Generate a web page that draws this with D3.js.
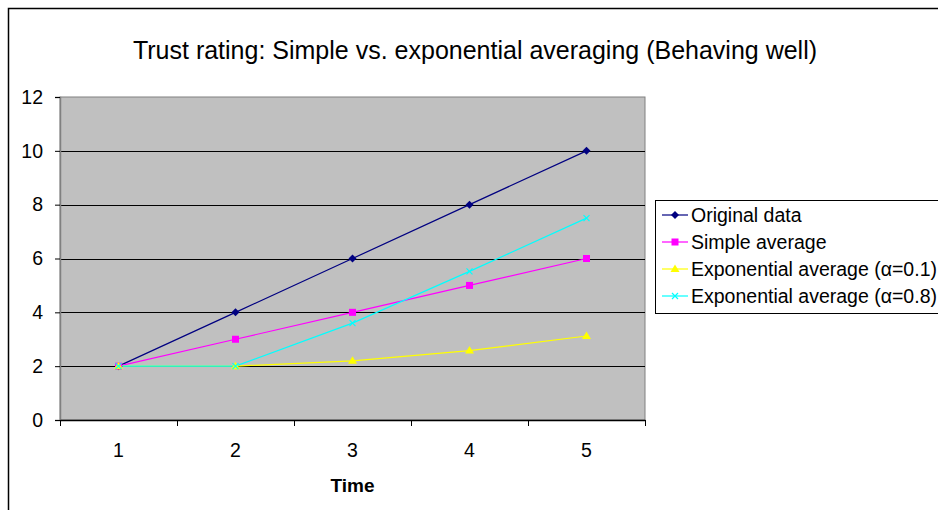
<!DOCTYPE html>
<html>
<head>
<meta charset="utf-8">
<script src="https://cdn.jsdelivr.net/npm/d3@7"></script>
<style>
  body { margin: 0; background: #fff; }
  svg { font-family: "Liberation Sans", Arial, sans-serif; }
</style>
</head>
<body>
<div id="chart"></div>
<script>
// data
var times = [1, 2, 3, 4, 5];
var original = [2, 4, 6, 8, 10];
var simpleAvg = [2, 3, 4, 5, 6];
var expAvg01 = [2, 2, 2.2, 2.58, 3.12];
var expAvg08 = [2, 2, 3.6, 5.52, 7.5];
var yTicks = [0, 2, 4, 6, 8, 10, 12];
var seriesNames = ["Original data", "Simple average", "Exponential average (\u03b1=0.1)", "Exponential average (\u03b1=0.8)"];

var svgWidth = 938;
var svgHeight = 510;

var margin = {top: 97, right: 293, bottom: 90, left: 60};
var width = svgWidth - margin.left - margin.right;
var height = svgHeight - margin.top - margin.bottom;

var svg = d3.select("#chart")
  .append("svg")
  .attr("width", svgWidth)
  .attr("height", svgHeight);

// outer chart border (runs off the right and bottom)
svg.append("rect")
  .attr("x", 8.5)
  .attr("y", 8.5)
  .attr("width", 1000)
  .attr("height", 1000)
  .attr("fill", "none")
  .attr("stroke", "#000")
  .attr("stroke-width", 1.5);

var chartGroup = svg.append("g")
  .attr("transform", `translate(${margin.left}, ${margin.top})`);

var xScale = d3.scaleBand()
  .domain(times)
  .range([0, width]);

var yScale = d3.scaleLinear()
  .domain([0, 12])
  .range([height, 0]);

// plot area
chartGroup.append("rect")
  .attr("width", width)
  .attr("height", height)
  .attr("fill", "#c0c0c0")
  .attr("stroke", "#808080")
  .attr("stroke-width", 1);

// gridlines
chartGroup.append("g")
  .selectAll("line")
  .data(yTicks.filter(d => d > 0 && d < 12))
  .join("line")
  .attr("x1", 0)
  .attr("x2", width)
  .attr("y1", d => Math.round(yScale(d)) + 0.5)
  .attr("y2", d => Math.round(yScale(d)) + 0.5)
  .attr("stroke", "#000")
  .attr("stroke-width", 1);

// y axis
var leftAxis = d3.axisLeft(yScale)
  .tickValues(yTicks)
  .tickSize(5)
  .tickPadding(12);

var yAxis = chartGroup.append("g")
  .call(leftAxis);
yAxis.select(".domain").attr("stroke", "#808080").attr("stroke-width", 1.5);
yAxis.selectAll(".tick line").attr("stroke", "#000");
yAxis.selectAll("text").attr("font-size", 19.5).attr("fill", "#000");

// x axis: labels centred on bands, ticks on band edges
var bottomAxis = d3.axisBottom(xScale)
  .tickSize(0)
  .tickPadding(23);

var xAxis = chartGroup.append("g")
  .attr("transform", `translate(0, ${height})`)
  .call(bottomAxis);
xAxis.select(".domain").attr("stroke", "#000").attr("stroke-width", 1.5);
xAxis.selectAll("text").attr("font-size", 19.5).attr("fill", "#000");

xAxis.append("g")
  .selectAll("line")
  .data(times.map(d => xScale(d)).concat([width]))
  .join("line")
  .attr("x1", d => d + 0.5)
  .attr("x2", d => d + 0.5)
  .attr("y1", 0)
  .attr("y2", 6)
  .attr("stroke", "#000");

chartGroup.append("text")
  .attr("x", width / 2)
  .attr("y", height + 72)
  .attr("text-anchor", "middle")
  .attr("font-size", 19)
  .attr("font-weight", "bold")
  .text("Time");

// title
svg.append("text")
  .attr("x", 475)
  .attr("y", 59)
  .attr("text-anchor", "middle")
  .attr("font-size", 25)
  .text("Trust rating: Simple vs. exponential averaging (Behaving well)");

var series = [
  {name: seriesNames[0], values: original, color: "#000080", marker: "diamond"},
  {name: seriesNames[1], values: simpleAvg, color: "#ff00ff", marker: "square"},
  {name: seriesNames[2], values: expAvg01, color: "#ffff00", marker: "triangle"},
  {name: seriesNames[3], values: expAvg08, color: "#00ffff", marker: "cross"}
];

var cx = d => xScale(d) + xScale.bandwidth() / 2;

var line = d3.line()
  .x((d, i) => cx(times[i]))
  .y(d => yScale(d));

function drawMarker(g, type, color) {
  if (type === "diamond") {
    g.append("path").attr("d", "M0,-4L4,0L0,4L-4,0Z").attr("fill", color);
  } else if (type === "square") {
    g.append("rect").attr("x", -3.5).attr("y", -3.5).attr("width", 7).attr("height", 7).attr("fill", color);
  } else if (type === "triangle") {
    g.append("path").attr("d", "M0,-4.5L4.5,3L-4.5,3Z").attr("fill", color);
  } else {
    g.append("path").attr("d", "M-3,-3L3,3M-3,3L3,-3").attr("stroke", color).attr("stroke-width", 1.2);
  }
}

var seriesGroup = chartGroup.append("g");
series.forEach(function(s) {
  seriesGroup.append("path")
    .datum(s.values)
    .attr("d", line)
    .attr("fill", "none")
    .attr("stroke", s.color)
    .attr("stroke-width", 1.2);
});
series.forEach(function(s) {
  s.values.forEach(function(v, i) {
    var g = seriesGroup.append("g")
      .attr("transform", `translate(${cx(times[i])}, ${yScale(v)})`);
    drawMarker(g, s.marker, s.color);
  });
});

// legend (box runs past the right edge)
var legend = svg.append("g")
  .attr("transform", "translate(655, 200)");

legend.append("rect")
  .attr("x", 0.5)
  .attr("y", 0.5)
  .attr("width", 320)
  .attr("height", 113)
  .attr("fill", "#fff")
  .attr("stroke", "#000");

series.forEach(function(s, i) {
  var yy = 15 + i * 27;
  legend.append("line")
    .attr("x1", 7)
    .attr("x2", 33)
    .attr("y1", yy)
    .attr("y2", yy)
    .attr("stroke", s.color)
    .attr("stroke-width", 1.2);
  var g = legend.append("g").attr("transform", `translate(20, ${yy})`);
  drawMarker(g, s.marker, s.color);
  legend.append("text")
    .attr("x", 36)
    .attr("y", yy + 7)
    .attr("font-size", 19.5)
    .text(s.name);
});
</script>
</body>
</html>
